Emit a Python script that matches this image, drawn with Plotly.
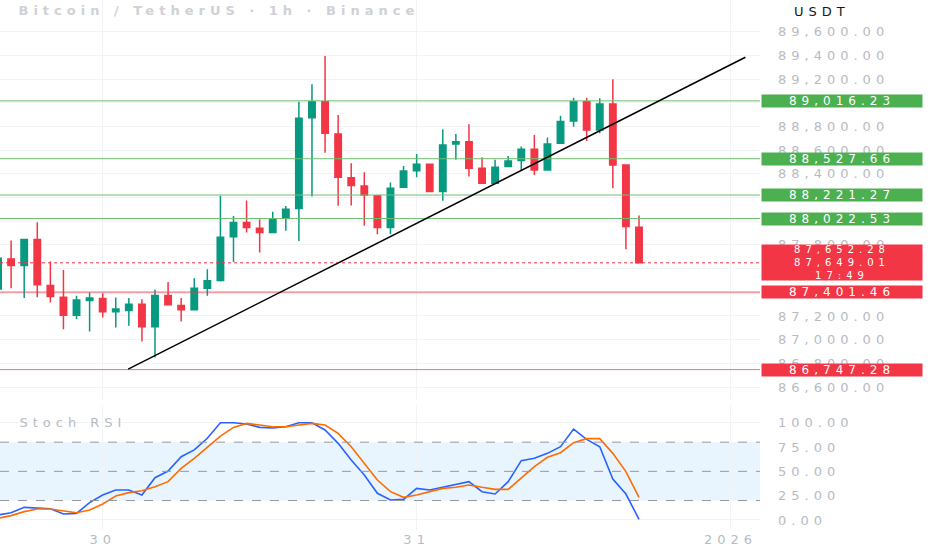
import pandas as pd
import plotly.graph_objects as go
from plotly.subplots import make_subplots

# hourly candles, Dec 29 16:00 -> Dec 31 17:00
times = pd.date_range("2025-12-29 16:00", periods=50, freq="h")
opens = [87427, 87682, 87626, 87845, 87457, 87359, 87207, 87331, 87347, 87235,
         87246, 87300, 87109, 87373, 87288, 87252, 87435, 87499, 87870, 87989,
         87941, 87904, 88026, 88107, 88874, 89009, 88737, 88368, 88298, 88216,
         87946, 88287, 88427, 88481, 88250, 88653, 88672, 88448, 88321, 88461,
         88512, 88608, 88433, 88658, 88847, 89009, 88771, 88990, 88475, 87950]
highs = [87716, 87837, 87848, 87992, 87660, 87589, 87370, 87398, 87393, 87356,
         87351, 87342, 87421, 87488, 87351, 87519, 87595, 88216, 88045, 88174,
         88017, 88081, 88129, 89009, 89156, 89395, 88897, 88490, 88414, 88216,
         88326, 88467, 88568, 88484, 88777, 88737, 88819, 88540, 88518, 88551,
         88630, 88728, 88706, 88891, 89043, 89043, 89038, 89198, 88475, 88048]
lows = [87404, 87435, 87351, 87359, 87314, 87089, 87174, 87069, 87187, 87103,
        87117, 86985, 86850, 87290, 87153, 87246, 87370, 87492, 87655, 87904,
        87735, 87900, 87919, 87834, 88208, 88579, 88130, 88132, 87961, 87891,
        87891, 88287, 88372, 88248, 88172, 88518, 88377, 88321, 88321, 88461,
        88433, 88391, 88433, 88658, 88798, 88678, 88743, 88279, 87764, 87649]
closes = [87688, 87626, 87845, 87463, 87364, 87207, 87336, 87351, 87235, 87258,
          87300, 87109, 87373, 87294, 87252, 87435, 87497, 87865, 87989, 87946,
          87904, 88017, 88102, 88869, 89009, 88743, 88372, 88301, 88222, 87946,
          88279, 88425, 88481, 88250, 88644, 88672, 88448, 88321, 88456, 88509,
          88608, 88433, 88653, 88841, 89009, 88771, 88990, 88475, 87955, 87649.01]

stoch_k = [5.1, 7.5, 13, 12, 11.6, 6.2, 6.8, 17.8, 25.7, 30.8,
           30.8, 25.7, 43.5, 50.3, 65, 72, 84, 100, 100, 98.6,
           95.2, 94.5, 95.9, 100, 100, 92.5, 78.8, 61.6, 46.2, 27.4,
           20.5, 21.2, 32.5, 30.8, 33.6, 36, 39.4, 29.1, 26.7, 39.4,
           61, 63.4, 68.5, 75.3, 93.5, 82.9, 75.3, 42.1, 26.7, 0.7]
stoch_d = [1.7, 4.5, 8.6, 11.3, 11.3, 9.6, 7.5, 10.3, 16.4, 24.7,
           28.1, 30.1, 34.2, 39.4, 53.1, 63.4, 75.3, 86.3, 95.2, 99.3,
           97.6, 95.9, 95.9, 97.6, 99.3, 97.6, 89, 75.3, 58.2, 41.1,
           29.1, 23.3, 25.7, 29.1, 32.5, 33.6, 36, 33.6, 31.5, 31.5,
           42.8, 54.8, 64.4, 69.2, 79.5, 83.6, 83.6, 68.5, 49.7, 23.3]

green_levels = [89016.23, 88527.66, 88221.27, 88022.53]
red_levels = [87401.46, 86747.28]
last_price = 87649.01
last_label = "87,652.28<br>87,649.01<br>17:49"

trend_x = ["2025-12-30 01:57", "2026-01-01 01:08"]
trend_y = [86752, 89384]

day_ticks = ["2025-12-30", "2025-12-31", "2026-01-01"]
day_labels = ["30", "31", "2026"]
price_ticks = list(range(86600, 89601, 200))
# these axis labels sit fully under a price tag in the screenshot
covered_ticks = [89000, 88200, 88000, 87600, 87400]
price_labels = ["" if t in covered_ticks else f"{t:,.2f}" for t in price_ticks]
stoch_ticks = [0, 25, 50, 75, 100]
stoch_bands = [80, 50, 20]

GREEN = "#089981"
RED = "#f23645"
TAG_GREEN = "#4caf50"
LABEL = "#b8bbc2"
GRID = "#f2f3f5"
FONT = "DejaVu Sans"

fig = make_subplots(rows=2, cols=1, shared_xaxes=True, vertical_spacing=0.01)

fig.add_trace(go.Candlestick(
    x=times, open=opens, high=highs, low=lows, close=closes,
    increasing=dict(line=dict(color=GREEN, width=1.5), fillcolor=GREEN),
    decreasing=dict(line=dict(color=RED, width=1.5), fillcolor=RED),
    showlegend=False, hoverinfo="skip"), row=1, col=1)

fig.add_trace(go.Scatter(x=times, y=stoch_k, mode="lines",
                         line=dict(color="#2962ff", width=1.6), showlegend=False), row=2, col=1)
fig.add_trace(go.Scatter(x=times, y=stoch_d, mode="lines",
                         line=dict(color="#ff6d00", width=1.6), showlegend=False), row=2, col=1)

# horizontal levels
for lv in green_levels:
    fig.add_hline(y=lv, line=dict(color="#6cbf6f", width=1), row=1, col=1)
fig.add_hline(y=red_levels[0], line=dict(color="rgba(242,54,69,0.45)", width=2), row=1, col=1)
fig.add_hline(y=red_levels[1], line=dict(color="#f27079", width=1), row=1, col=1)
fig.add_hline(y=last_price, line=dict(color=RED, width=1, dash="dot"), row=1, col=1)

fig.add_shape(type="line", x0=trend_x[0], y0=trend_y[0], x1=trend_x[1], y1=trend_y[1],
              xref="x", yref="y", line=dict(color="black", width=1.5))

# stoch band
fig.add_hrect(y0=stoch_bands[2], y1=stoch_bands[0], fillcolor="rgba(33,150,243,0.1)",
              line_width=0, layer="below", row=2, col=1)
for lv in stoch_bands:
    fig.add_hline(y=lv, line=dict(color="#9598a1", width=1, dash="dash"), row=2, col=1)

# price tags on the axis
tag_x = 761 / 760
for lv in green_levels:
    fig.add_annotation(x=tag_x, y=lv, xref="paper", yref="y", text=f"{lv:,.2f}",
                       showarrow=False, xanchor="left", yanchor="middle", width=160, height=12,
                       bgcolor=TAG_GREEN, borderpad=0, font=dict(family=FONT, size=12, color="white"))
for lv in red_levels:
    fig.add_annotation(x=tag_x, y=lv, xref="paper", yref="y", text=f"{lv:,.2f}",
                       showarrow=False, xanchor="left", yanchor="middle", width=160, height=12,
                       bgcolor=RED, borderpad=0, font=dict(family=FONT, size=12, color="white"))
fig.add_annotation(x=tag_x, y=last_price, xref="paper", yref="y", text=last_label,
                   showarrow=False, xanchor="left", yanchor="middle", width=160, height=35,
                   bgcolor=RED, borderpad=0, font=dict(family=FONT, size=10, color="white"))

fig.add_annotation(x=219 / 760, y=1 - 11 / 530, xref="paper", yref="paper",
                   text="<b>Bitcoin / TetherUS · 1h · Binance</b>", showarrow=False,
                   xanchor="center", yanchor="middle", font=dict(family=FONT, size=13, color="#cfd1d6"))
fig.add_annotation(x=73 / 760, y=(530 - 422) / 530, xref="paper", yref="paper",
                   text="Stoch RSI", showarrow=False, xanchor="center", yanchor="middle",
                   font=dict(family=FONT, size=13, color=LABEL))
fig.add_annotation(x=822 / 760, y=1 - 12 / 530, xref="paper", yref="paper",
                   text="USDT", showarrow=False, xanchor="center", yanchor="middle",
                   font=dict(family=FONT, size=13, color="#131722"))

fig.update_xaxes(range=["2025-12-29 16:09", "2026-01-01 02:15"], tickvals=day_ticks,
                 ticktext=day_labels, showgrid=True, gridcolor=GRID, showline=False,
                 zeroline=False, rangeslider_visible=False,
                 tickfont=dict(family=FONT, size=13, color=LABEL))
fig.update_xaxes(showticklabels=False, row=1, col=1)

fig.update_yaxes(side="right", range=[86490.8, 89867.6], tickvals=price_ticks,
                 ticktext=price_labels, showgrid=True, gridcolor=GRID, zeroline=False,
                 ticklabelstandoff=17, tickfont=dict(family=FONT, size=13, color=LABEL),
                 domain=[130 / 530, 1], row=1, col=1)
fig.update_yaxes(side="right", range=[-10.3, 118.2], tickvals=stoch_ticks,
                 tickformat=".2f", showgrid=True, gridcolor=GRID, zeroline=False,
                 ticklabelstandoff=17, tickfont=dict(family=FONT, size=13, color=LABEL),
                 domain=[0, 125 / 530], row=2, col=1)

fig.update_layout(width=932, height=550, margin=dict(l=0, r=172, t=0, b=20),
                  plot_bgcolor="white", paper_bgcolor="white", boxgap=0.3,
                  showlegend=False, hovermode=False)

# page without body margin; wide, spaced-out labels like the screenshot
page_css = """
document.body.style.margin = '0';
var st = document.createElement('style');
st.textContent = '.ytick text, .y2tick text, .x2tick text, .annotation-text {letter-spacing: 5px;}';
document.head.appendChild(st);
"""
fig.write_html("out.html", post_script=page_css, config={"displayModeBar": False})
